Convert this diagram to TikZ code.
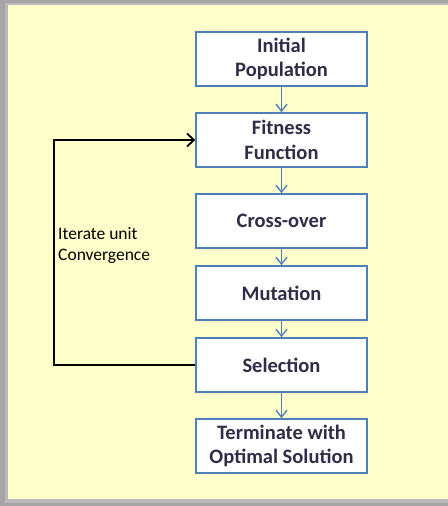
\documentclass[tikz,border=0pt]{standalone}
\usepackage{fontspec}
\setmainfont{Carlito}
\usetikzlibrary{arrows.meta}
\definecolor{panel}{HTML}{FFFFCC}
\definecolor{frame}{HTML}{A6A6A6}
\definecolor{boxline}{HTML}{4F7FB8}
\definecolor{boxtext}{HTML}{2E2E48}
\tikzset{
  stepbox/.style={draw=boxline, line width=1.4pt, fill=white,
    minimum width=171bp, minimum height=54bp, inner sep=0pt,
    align=center, text=boxtext,
    font=\fontsize{20.5bp}{24.5bp}\selectfont\bfseries},
  flow/.style={draw=boxline, line width=1.4pt,
    -{Straight Barb[length=7bp, width=11bp, line width=1.4pt]}},
  loopline/.style={draw=black, line width=1.8pt,
    -{Straight Barb[length=7bp, width=13bp, line width=1.8pt]}},
  looplabel/.style={align=left, anchor=north west, inner sep=0pt,
    text=black, font=\fontsize{17.5bp}{21bp}\selectfont}
}
\begin{document}
\begin{tikzpicture}[x=1bp, y=-1bp]
  \useasboundingbox (0,0) rectangle (448,506);
  % frame and shaded panel
  \fill[frame] (0,0) rectangle (448,506);
  \fill[gray!55] (5,3) rectangle (448,503);
  \fill[panel] (8,5) rectangle (448,499);

  % process steps
  \node[stepbox] (init) at (281.5,59)  {Initial\\Population};
  \node[stepbox] (fit)  at (281.5,140) {Fitness\\Function};
  \node[stepbox] (cross) at (281.5,221) {Cross-over};
  \node[stepbox] (mut)  at (281.5,293) {Mutation};
  \node[stepbox] (sel)  at (281.5,365) {Selection};
  \node[stepbox] (term) at (281.5,446) {Terminate with\\Optimal Solution};

  % downward flow
  \draw[flow] (init) -- (fit);
  \draw[flow] (fit) -- (cross);
  \draw[flow] (cross) -- (mut);
  \draw[flow] (mut) -- (sel);
  \draw[flow] (sel) -- (term);

  % iteration loop back to fitness evaluation
  \coordinate (lb) at (54,365);
  \coordinate (lt) at (54,140);
  \draw[loopline] (sel.west) -- (lb) -- (lt) -- (fit.west);
  \node[looplabel] (iter) at (58,227) {Iterate unit\\Convergence};
\end{tikzpicture}
\end{document}
